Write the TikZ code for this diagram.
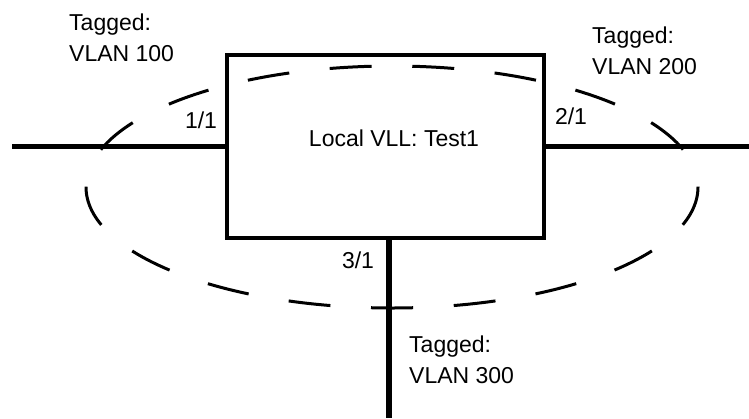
\documentclass[tikz,border=0pt]{standalone}
\usepackage{fontspec}
\setmainfont{Liberation Sans}
\begin{document}
\begin{tikzpicture}[x=1pt,y=-1pt,
  lbl/.style={font=\fontsize{23}{31}\selectfont, inner sep=0pt, align=left},
  wire/.style={line width=5.5pt},
  boxst/.style={draw, line width=3.5pt, minimum width=317pt, minimum height=183pt, inner sep=0pt},
  ring/.style={line width=3pt, dash pattern=on 42pt off 40.66pt, dash phase=21pt}]
\useasboundingbox[fill=white] (0,0) rectangle (749,418);
\node[boxst] (box) at (385.5,146.5) {};
\coordinate (lend) at (12,146.5);
\coordinate (rend) at (749,146.5);
\coordinate (bend) at (389,418);
\draw[wire] (lend) -- (box.west);
\draw[wire] (box.east) -- (rend);
\draw[wire] (box.south -| bend) -- (bend);
\draw[ring] (392,308) arc[start angle=90, end angle=450, x radius=306, y radius=121];
\node[lbl, anchor=north west] (t100) at (69,14) {Tagged:\\VLAN 100};
\node[lbl, anchor=north west] (t200) at (592,27) {Tagged:\\VLAN 200};
\node[lbl, anchor=north west] (t300) at (409,336) {Tagged:\\VLAN 300};
\node[lbl] (p1) at (201,120) {1/1};
\node[lbl] (p2) at (571,116) {2/1};
\node[lbl] (p3) at (358,260) {3/1};
\node[lbl] (title) at (394,138) {Local VLL: Test1};
\end{tikzpicture}
\end{document}
